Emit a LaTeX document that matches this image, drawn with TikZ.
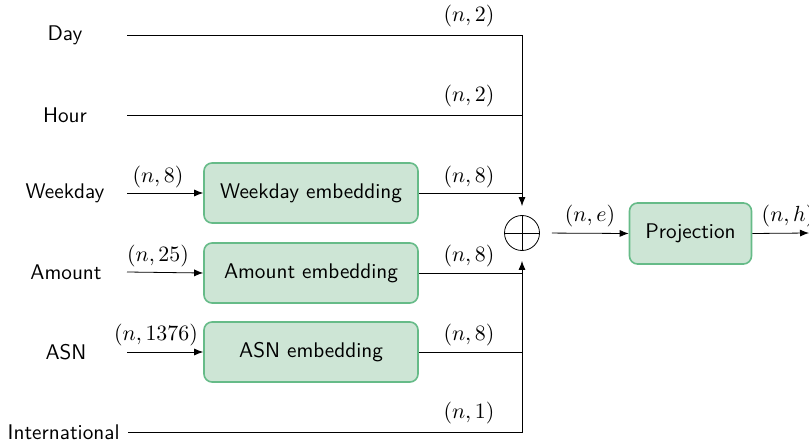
\documentclass[tikz,border=0pt]{standalone}
\usetikzlibrary{arrows.meta}
\definecolor{boxfill}{HTML}{CDE5D5}
\definecolor{boxdraw}{HTML}{66BB88}
\begin{document}
\begin{tikzpicture}[x=0.5pt,y=-0.5pt,font=\fontsize{10.6}{13}\selectfont\sffamily,
  emb/.style={draw=boxdraw,fill=boxfill,rounded corners=4pt,line width=0.8pt,
    minimum width=107pt,minimum height=30pt,inner sep=0pt},
  inlab/.style={inner sep=0pt},
  arr/.style={-{Latex[length=4.5pt,width=3.5pt]}},
  dimlab/.style={inner sep=0pt,font=\fontsize{10.8}{13}\selectfont\normalfont}]
\useasboundingbox (0,0) rectangle (809,444);

% input labels
\node[inlab] (day) at (65,35) {Day};
\node[inlab] (hour) at (65,115) {Hour};
\node[inlab] (wkd) at (65,193) {Weekday};
\node[inlab] (amt) at (66,272) {Amount};
\node[inlab] (asn) at (66,352) {ASN};
\node[inlab,anchor=east] (intl) at (120,432) {International};

\coordinate (dayS) at (127,35);
\coordinate (hourS) at (127,115);
\coordinate (wkdS) at (127,193);
\coordinate (amtS) at (127,272);
\coordinate (asnS) at (127,352);
\coordinate (intlS) at (128,432);

% embedding boxes
\node[emb] (wkb) at (311,193) {Weekday embedding};
\node[emb] (amb) at (311,273) {Amount embedding};
\node[emb] (asb) at (311,352) {ASN embedding};

% sum
\node[draw,circle,minimum size=17.5pt,inner sep=0pt] (plus) at (522,233) {};
\draw (plus.north) -- (plus.south) (plus.west) -- (plus.east);

% projection
\node[emb,minimum width=61pt,minimum height=30.5pt] (proj) at (690.5,233.5) {Projection};
\coordinate (outE) at (809,233);

% connectors
\draw[arr,shorten >=4.5pt] (dayS) -| (plus.north);
\draw (hourS) -- (hourS -| plus);
\draw[arr] (wkdS) -- (wkb.west);
\draw (wkb.east) -- (wkb.east -| plus);
\draw[arr] (amtS) -- (amb.west);
\draw (amb.east) -- (amb.east -| plus);
\draw[arr] (asnS) -- (asb.west);
\draw (asb.east) -- (asb.east -| plus);
\draw[arr,shorten >=5pt] (intlS) -| (plus.south);
\draw[arr,shorten <=6pt] (plus.east) -- (proj.west);
\draw[arr] (proj.east) -- (outE);

% dimension labels
\node[dimlab] (l1) at (469,16) {$(n,2)$};
\node[dimlab] (l2) at (469,96) {$(n,2)$};
\node[dimlab] (l3) at (158,177) {$(n,8)$};
\node[dimlab] (l4) at (469,177) {$(n,8)$};
\node[dimlab] (l5) at (158,256) {$(n,25)$};
\node[dimlab] (l6) at (469,256) {$(n,8)$};
\node[dimlab] (l7) at (156,335) {$(n,1376)$};
\node[dimlab] (l8) at (469,335) {$(n,8)$};
\node[dimlab] (l9) at (469,413) {$(n,1)$};
\node[dimlab] (l10) at (590,216) {$(n,e)$};
\node[dimlab] (l11) at (788,216) {$(n,h)$};
\end{tikzpicture}
\end{document}
